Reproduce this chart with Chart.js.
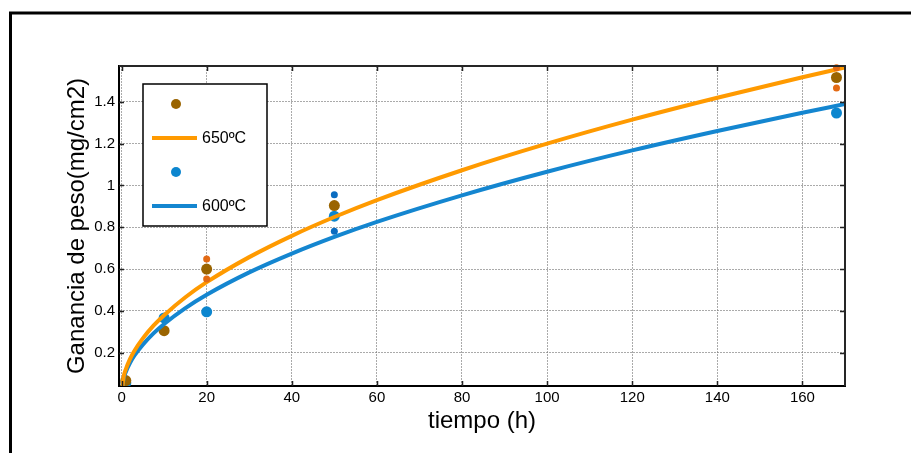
<!DOCTYPE html>
<html>
<head>
<meta charset="utf-8">
<title>Ganancia de peso</title>
<script src="https://cdn.jsdelivr.net/npm/chart.js@4.4.1/dist/chart.umd.min.js"></script>
<style>
  html, body { margin: 0; padding: 0; background: #fff; }
  #wrap { position: relative; width: 911px; height: 453px; }
</style>
</head>
<body>
<div id="wrap"><canvas id="chart" width="911" height="453"></canvas></div>
<script>
// ensayos de oxidacion: tiempo (h) vs ganancia de peso (mg/cm2)
const tiempos = [1, 10, 20, 50, 168];
const medio650 = [0.066, 0.305, 0.600, 0.904, 1.517];
const medio600 = [0.055, 0.366, 0.395, 0.853, 1.347];

// valores extremos de las repeticiones
const extremos650 = [
  { x: 20, y: 0.648 }, { x: 20, y: 0.552 },
  { x: 168, y: 1.564 }, { x: 168, y: 1.467 }
];
const extremos600 = [
  { x: 50, y: 0.956 }, { x: 50, y: 0.781 }
];

// curvas de ajuste (parabolicas)
const tAjuste = [0, 0.5, 1, 2, 3, 5, 7.5, 10, 15, 20, 30, 40, 50, 60, 80, 100, 120, 140, 160, 170];
const ajuste650 = [0, 0.085, 0.12, 0.17, 0.208, 0.268, 0.329, 0.379, 0.465, 0.537, 0.657, 0.759, 0.849, 0.93, 1.073, 1.2, 1.315, 1.42, 1.518, 1.565];
const ajuste600 = [0, 0.075, 0.107, 0.151, 0.185, 0.238, 0.292, 0.337, 0.413, 0.477, 0.584, 0.674, 0.754, 0.826, 0.953, 1.066, 1.168, 1.261, 1.348, 1.39];

const xTicks = [0, 20, 40, 60, 80, 100, 120, 140, 160];
const yTicks = [0.2, 0.4, 0.6, 0.8, 1, 1.2, 1.4];

const C_BROWN = '#9a6400';
const C_ORANGE = '#ff9a00';
const C_ORANGE_DOT = '#e36a14';
const C_BLUE = '#1486d0';
const C_BLUE_DOT = '#0c86cf';
const C_BLUE_SMALL = '#0a6cc0';
const C_GRID = 'rgba(125,125,125,0.65)';
const FONT = 'Liberation Sans, Arial, Helvetica, sans-serif';

const pares = (xs, ys) => xs.map((x, i) => ({ x: x, y: ys[i] }));

// marco exterior, caja de ejes con ticks hacia dentro y leyenda
const extras = {
  id: 'extras',
  beforeDraw(chart) {
    const ctx = chart.ctx;
    ctx.save();
    ctx.strokeStyle = '#000';
    ctx.lineWidth = 3;
    ctx.beginPath();
    ctx.moveTo(10.5, 453);
    ctx.lineTo(10.5, 13);
    ctx.lineTo(911, 13);
    ctx.stroke();
    ctx.restore();
  },
  afterDatasetsDraw(chart) {
    const ctx = chart.ctx;
    const a = chart.chartArea;
    const sx = chart.scales.x, sy = chart.scales.y;
    ctx.save();
    ctx.strokeStyle = '#222';
    ctx.lineWidth = 1.5;
    ctx.beginPath();
    xTicks.forEach(v => {
      const px = Math.round(sx.getPixelForValue(v)) + 0.5;
      ctx.moveTo(px, a.bottom); ctx.lineTo(px, a.bottom - 5);
      ctx.moveTo(px, a.top); ctx.lineTo(px, a.top + 5);
    });
    yTicks.forEach(v => {
      const py = Math.round(sy.getPixelForValue(v)) + 0.5;
      ctx.moveTo(a.left, py); ctx.lineTo(a.left + 5, py);
      ctx.moveTo(a.right, py); ctx.lineTo(a.right - 5, py);
    });
    ctx.stroke();
    ctx.strokeStyle = '#262626';
    ctx.lineWidth = 2;
    ctx.beginPath();
    ctx.moveTo(a.left, a.top); ctx.lineTo(a.right, a.top); ctx.lineTo(a.right, a.bottom);
    ctx.stroke();
    ctx.restore();
  },
  afterDraw(chart) {
    const ctx = chart.ctx;
    ctx.save();
    // leyenda
    const lx = 143, ly = 84, lw = 124, lh = 142;
    ctx.fillStyle = '#fff';
    ctx.fillRect(lx, ly, lw, lh);
    ctx.strokeStyle = '#000';
    ctx.lineWidth = 1.5;
    ctx.strokeRect(lx, ly, lw, lh);
    const filas = [
      { tipo: 'punto', color: C_BROWN, y: 104 },
      { tipo: 'linea', color: C_ORANGE, y: 138, texto: '650ºC' },
      { tipo: 'punto', color: C_BLUE_DOT, y: 172 },
      { tipo: 'linea', color: C_BLUE, y: 206, texto: '600ºC' }
    ];
    filas.forEach(f => {
      if (f.tipo === 'punto') {
        ctx.fillStyle = f.color;
        ctx.beginPath();
        ctx.arc(176, f.y, 5, 0, Math.PI * 2);
        ctx.fill();
      } else {
        ctx.strokeStyle = f.color;
        ctx.lineWidth = 4;
        ctx.beginPath();
        ctx.moveTo(152, f.y); ctx.lineTo(197, f.y);
        ctx.stroke();
        ctx.fillStyle = '#000';
        ctx.font = '16px ' + FONT;
        ctx.textBaseline = 'middle';
        ctx.textAlign = 'left';
        ctx.fillText(f.texto, 202, f.y + 1);
      }
    });
    ctx.restore();
  }
};

// order: el menor se pinta encima
new Chart(document.getElementById('chart'), {
  type: 'scatter',
  data: {
    datasets: [
      {
        label: '650ºC extremos', data: extremos650, clip: false,
        backgroundColor: C_ORANGE_DOT, borderWidth: 0, pointRadius: 3.5, order: 0
      },
      {
        label: '650ºC ajuste', type: 'line', data: pares(tAjuste, ajuste650),
        borderColor: C_ORANGE, borderWidth: 4, pointRadius: 0, fill: false,
        cubicInterpolationMode: 'monotone', order: 1
      },
      {
        label: '600ºC ajuste', type: 'line', data: pares(tAjuste, ajuste600),
        borderColor: C_BLUE, borderWidth: 4, pointRadius: 0, fill: false,
        cubicInterpolationMode: 'monotone', order: 2
      },
      {
        label: '650ºC', data: pares(tiempos, medio650),
        backgroundColor: C_BROWN, borderWidth: 0, pointRadius: 5.5, order: 3
      },
      {
        label: '600ºC', data: pares(tiempos, medio600),
        backgroundColor: C_BLUE_DOT, borderWidth: 0, pointRadius: 5.5, order: 5
      },
      {
        label: '600ºC extremos', data: extremos600,
        backgroundColor: C_BLUE_SMALL, borderWidth: 0, pointRadius: 3.5, order: 6
      }
    ]
  },
  options: {
    responsive: false,
    animation: false,
    layout: { padding: { left: 0, top: 66, right: 66, bottom: 0 }, autoPadding: false },
    plugins: { legend: { display: false }, tooltip: { enabled: false } },
    scales: {
      x: {
        type: 'linear', min: -0.6, max: 170,
        afterFit: s => { s.height = 67; },
        afterBuildTicks: s => { s.ticks = xTicks.map(v => ({ value: v })); },
        ticks: { color: '#000', font: { family: FONT, size: 15 }, padding: 3, maxRotation: 0 },
        grid: { color: C_GRID, drawTicks: false },
        border: { color: '#000', width: 2, dash: [2, 1] },
        title: { display: true, text: 'tiempo (h)', color: '#000', font: { family: FONT, size: 24 }, padding: { top: 0, bottom: 17 } }
      },
      y: {
        type: 'linear', min: 0.04, max: 1.572,
        afterFit: s => { s.width = 119; },
        afterBuildTicks: s => { s.ticks = yTicks.map(v => ({ value: v })); },
        ticks: {
          color: '#000', font: { family: FONT, size: 15 }, padding: 4,
          callback: v => String(Number(v.toFixed(1)))
        },
        grid: { color: C_GRID, drawTicks: false },
        border: { color: '#000', width: 2, dash: [2, 1] },
        title: { display: true, text: 'Ganancia de peso(mg/cm2)', color: '#000', font: { family: FONT, size: 24 }, padding: { top: 63, bottom: 0 } }
      }
    }
  },
  plugins: [extras]
});
</script>
</body>
</html>
